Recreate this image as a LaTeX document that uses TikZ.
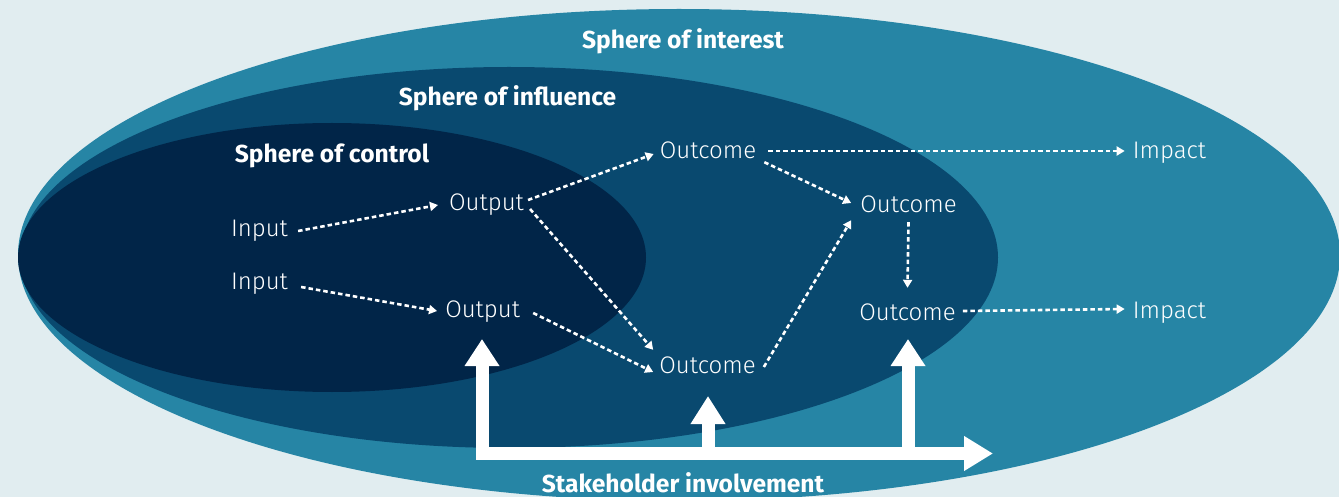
\documentclass[tikz,border=0pt]{standalone}
\usepackage{fontspec}
\setmainfont{Fira Sans}
\newfontfamily\lightfont{Fira Sans Light}
\usetikzlibrary{arrows.meta}
\definecolor{bg}{HTML}{E1EDF0}
\definecolor{interest}{HTML}{2685A5}
\definecolor{influence}{HTML}{09496F}
\definecolor{control}{HTML}{012548}
\tikzset{
  lbl/.style={text=white, font=\lightfont\fontsize{24}{24}\selectfont, inner sep=2pt, text height=17pt, text depth=5pt, anchor=base},
  hdr/.style={text=white, font=\bfseries\fontsize{24.6}{24.6}\selectfont, inner sep=0pt, anchor=base},
  dotarr/.style={draw=white, line width=2.6pt, dash pattern=on 4.5pt off 3pt, -{Triangle[width=9pt,length=8pt]}},
  bigarr/.style={draw=white, line width=13pt, line join=miter}
}
\begin{document}
\begin{tikzpicture}[x=1pt,y=-1pt]
\useasboundingbox (0,0) rectangle (1339,497);
\fill[bg] (0,0) rectangle (1339,497);
\begin{scope}
\clip (0,0) rectangle (1339,497);
\fill[interest] (679,255) ellipse [x radius=661pt, y radius=246pt];
\fill[influence] (509,257.5) ellipse [x radius=489pt, y radius=190.5pt];
\fill[control] (332,257.5) ellipse [x radius=314pt, y radius=134.5pt];
\end{scope}

\node[hdr] (hint) at (683,49) {Sphere of interest};
\node[hdr] (hinf) at (507.5,106) {Sphere of influence};
\node[hdr] (hcon) at (332,163) {Sphere of control};
\node[hdr] (hsta) at (683,492) {Stakeholder involvement};

\node[lbl] (in1) at (259.5,237) {Input};
\node[lbl] (in2) at (259.5,290) {Input};
\node[lbl] (out1) at (486.5,211) {Output};
\node[lbl] (out2) at (482.6,317) {Output};
\node[lbl] (oc1) at (708,159) {Outcome};
\node[lbl] (oc2) at (908.5,213) {Outcome};
\node[lbl] (oc3) at (707.5,373) {Outcome};
\node[lbl] (oc4) at (907.5,320) {Outcome};
\node[lbl] (imp1) at (1169.5,159) {Impact};
\node[lbl] (imp2) at (1169.5,318) {Impact};

\draw[dotarr] ([xshift=8pt]in1.east) -- ([xshift=-9pt]out1.west);
\draw[dotarr] ([xshift=11pt,yshift=-3pt]in2.east) -- ([xshift=-6pt]out2.west);
\draw[dotarr] ([xshift=2pt,yshift=5pt]out1.east) -- ([xshift=-4pt,yshift=-1pt]oc1.west);
\draw[dotarr] ([xshift=4pt,yshift=-4pt]out1.east) -- ([xshift=-4pt,yshift=4pt]oc3.north west);
\draw[dotarr] ([xshift=11pt,yshift=-2pt]out2.east) -- ([xshift=-4pt,yshift=-5pt]oc3.west);
\draw[dotarr] ([xshift=6pt]oc3.east) -- ([xshift=-7pt]oc2.south west);
\draw[dotarr] ([xshift=6pt,yshift=4pt]oc1.south east) -- ([xshift=-7pt,yshift=4pt]oc2.west);
\draw[dotarr] ([yshift=-2pt]oc2.south) -- ([yshift=13pt]oc4.north);
\draw[dotarr] ([xshift=10pt,yshift=2pt]oc1.east) -- ([xshift=-6pt,yshift=2pt]imp1.west);
\draw[dotarr] ([xshift=5pt,yshift=3pt]oc4.east) -- ([xshift=-6pt,yshift=3pt]imp2.west);

\coordinate (a1) at (482,339);
\coordinate (corner) at (482,453.5);
\coordinate (aend) at (993,453.5);
\coordinate (b2) at (708,453.5);
\coordinate (a2) at (708,396);
\coordinate (b3) at (908,453.5);
\coordinate (a3) at (908,339);
\draw[bigarr, {Triangle[width=33pt,length=27pt]}-{Triangle[width=33pt,length=29pt]}] (a1) -- (corner) -- (aend);
\draw[bigarr, -{Triangle[width=33pt,length=28pt]}] (b2) -- (a2);
\draw[bigarr, -{Triangle[width=33pt,length=27pt]}] (b3) -- (a3);
\end{tikzpicture}
\end{document}
